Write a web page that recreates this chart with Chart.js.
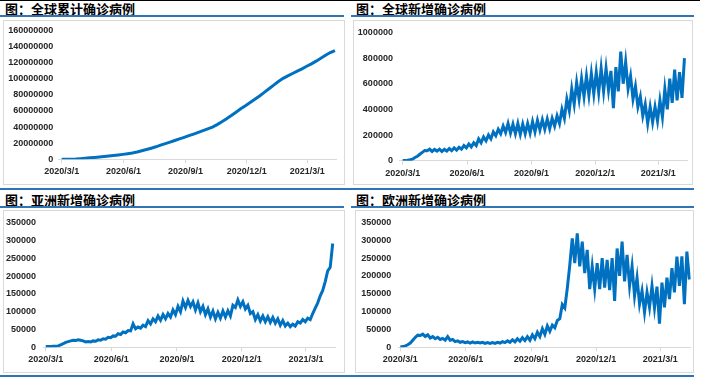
<!DOCTYPE html>
<html>
<head>
<meta charset="utf-8">
<script src="https://cdn.jsdelivr.net/npm/chart.js@4.4.0/dist/chart.umd.min.js"></script>
<style>
  body { margin: 0; background: #fff; width: 702px; height: 380px; position: relative; overflow: hidden; }
  .rule { position: absolute; height: 2px; background: #2F75B5; }
  .black { position: absolute; height: 1px; background: #000; }
  .title { position: absolute; font: bold 13px "Noto Sans CJK SC", sans-serif; line-height: 15px; color: #000; white-space: nowrap; }
  .box { position: absolute; border: 1px solid #D9D9D9; box-sizing: border-box; }
  canvas { position: absolute; }
</style>
</head>
<body>
<div class="black" style="left:0;top:0;width:700px"></div>

<div class="title" style="left:5px;top:1px">图：全球累计确诊病例</div>
<div class="title" style="left:356px;top:1px">图：全球新增确诊病例</div>
<div class="rule" style="left:0;top:15px;width:344px"></div>
<div class="rule" style="left:351px;top:15px;width:343px"></div>
<div class="box" style="left:3px;top:20px;width:342px;height:165px"></div>
<div class="box" style="left:353px;top:20px;width:340px;height:165px"></div>
<canvas id="c1" width="342" height="165" style="left:3px;top:20px"></canvas>
<canvas id="c2" width="340" height="165" style="left:353px;top:20px"></canvas>
<div class="rule" style="left:0;top:188px;width:694px"></div>

<div class="title" style="left:5px;top:192px">图：亚洲新增确诊病例</div>
<div class="title" style="left:356px;top:192px">图：欧洲新增确诊病例</div>
<div class="rule" style="left:0;top:206px;width:344px"></div>
<div class="rule" style="left:351px;top:206px;width:343px"></div>
<div class="box" style="left:3px;top:210px;width:342px;height:163px"></div>
<div class="box" style="left:355px;top:210px;width:339px;height:163px"></div>
<canvas id="c3" width="342" height="163" style="left:3px;top:210px"></canvas>
<canvas id="c4" width="339" height="163" style="left:355px;top:210px"></canvas>
<div class="rule" style="left:0;top:375px;width:694px"></div>

<script>
// x axis: days since 2020/3/1
const tickDays = [0, 92, 184, 275, 365];
const tickLabels = ['2020/3/1', '2020/6/1', '2020/9/1', '2020/12/1', '2021/3/1'];

// 全球累计确诊 (millions), one value per week from 2020/3/1
const cumStep = 7;
const globalTotal = [0.1, 0.1, 0.2, 0.4, 0.8, 1.3, 1.8, 2.3, 2.8, 3.4,
  4.0, 4.6, 5.3, 6.1, 7.0, 7.9, 9.1, 10.6, 12.2, 13.8,
  15.5, 17.5, 19.5, 21.4, 23.3, 25.3, 27.3, 29.3, 31.3, 33.4,
  35.6, 37.8, 40.0, 43.0, 46.5, 50.3, 54.3, 58.5, 62.7, 66.5,
  70.5, 74.5, 78.5, 83.0, 87.5, 92.0, 96.5, 100.5, 103.5, 106.5,
  109.5, 112.3, 115.5, 118.5, 121.8, 125.5, 129.2, 132.5, 135.0];

// daily series (thousands), one value every half week from 2020/3/1
const dailyStep = 3.5;
const globalNew = [2, 2, 4, 7, 12, 25, 35, 50, 65, 80,
  78, 90, 72, 88, 75, 90, 72, 88, 75, 95,
  78, 100, 82, 105, 90, 118, 100, 130, 108, 140,
  118, 170, 140, 185, 155, 200, 170, 225, 195, 245,
  210, 270, 220, 290, 215, 285, 210, 290, 205, 285,
  210, 290, 215, 305, 225, 315, 240, 320, 245, 325,
  250, 330, 270, 350, 290, 400, 330, 480, 390, 560,
  440, 610, 480, 640, 500, 660, 510, 680, 520, 690,
  530, 720, 540, 720, 550, 700, 410, 730, 540, 850,
  600, 770, 560, 660, 480, 580, 420, 500, 350, 440,
  290, 420, 300, 420, 310, 470, 340, 560, 400, 640,
  450, 710, 470, 690, 490, 800];

const asiaNew = [2, 2, 2, 3, 3, 4, 7, 10, 14, 16,
  18, 20, 19, 21, 20, 18, 15, 16, 15, 18,
  17, 21, 20, 24, 23, 28, 27, 32, 31, 38,
  36, 43, 41, 47, 46, 66, 52, 57, 54, 62,
  58, 75, 66, 80, 72, 88, 76, 92, 80, 95,
  85, 105, 92, 115, 100, 130, 112, 132, 115, 128,
  105, 125, 100, 115, 92, 108, 85, 102, 80, 98,
  82, 102, 85, 103, 88, 118, 112, 133, 115, 128,
  108, 118, 95, 100, 78, 92, 74, 88, 72, 86,
  70, 84, 68, 80, 62, 75, 60, 68, 58, 65,
  60, 72, 68, 78, 72, 82, 78, 95, 110, 125,
  145, 160, 185, 215, 225, 292];

const europeNew = [1, 2, 4, 7, 12, 20, 28, 34, 33, 37,
  30, 35, 26, 30, 24, 28, 22, 25, 20, 30,
  20, 22, 16, 18, 14, 16, 13, 15, 12, 15,
  12, 14, 12, 14, 11, 13, 11, 13, 11, 14,
  12, 16, 13, 18, 14, 21, 15, 24, 17, 27,
  19, 30, 20, 35, 24, 42, 30, 52, 36, 60,
  45, 62, 55, 75, 80, 120, 110, 165, 230, 305,
  236, 319, 227, 296, 208, 273, 163, 227, 163, 236,
  163, 250, 167, 245, 160, 250, 130, 277, 200, 296,
  185, 259, 172, 227, 144, 195, 121, 158, 98, 154,
  112, 172, 110, 170, 66, 181, 112, 195, 135, 222,
  154, 254, 172, 255, 121, 268, 190];

const lineColor = '#0070C0';
const tickFont = { family: '"Liberation Sans", Arial, sans-serif', size: 9, weight: 'bold' };

function makeChart(id, values, step, unit, o) {
  const points = values.map((v, i) => ({ x: i * step, y: v }));
  new Chart(document.getElementById(id), {
    type: 'line',
    data: { datasets: [{ data: points, borderColor: lineColor, borderWidth: 3, pointRadius: 0, tension: 0 }] },
    options: {
      responsive: false,
      animation: false,
      layout: { padding: { top: o.padTop, right: o.padRight, left: 0, bottom: 0 } },
      plugins: { legend: { display: false }, tooltip: { enabled: false } },
      scales: {
        x: {
          type: 'linear',
          min: o.xmin,
          max: o.xmax,
          afterBuildTicks: s => { s.ticks = tickDays.map(v => ({ value: v })); },
          afterFit: s => { s.height = o.xh; },
          ticks: {
            autoSkip: false, maxRotation: 0, padding: 3, color: '#262626', font: tickFont,
            callback: v => tickLabels[tickDays.indexOf(v)]
          },
          grid: { drawOnChartArea: false, drawTicks: true, tickLength: 4, color: '#D9D9D9' },
          border: { color: '#D9D9D9' }
        },
        y: {
          min: 0,
          max: o.ymax,
          afterFit: s => { s.width = o.yw; },
          ticks: {
            stepSize: o.ystep, padding: o.gap, color: '#262626', font: tickFont,
            callback: v => String(Math.round(v * unit))
          },
          grid: { display: false, drawTicks: false },
          border: { display: false }
        }
      }
    }
  });
}

makeChart('c1', globalTotal, cumStep, 1e6,
  { xmin: -5, xmax: 408, ymax: 160, ystep: 20, yw: 55.3, xh: 25.7, padTop: 10, padRight: 8.7, gap: 5 });
makeChart('c2', globalNew, dailyStep, 1e3,
  { xmin: -4, xmax: 407, ymax: 1000, ystep: 200, yw: 46.9, xh: 24.3, padTop: 11.7, padRight: 5.4, gap: 7 });
makeChart('c3', asiaNew, dailyStep, 1e3,
  { xmin: -3, xmax: 406, ymax: 350, ystep: 50, yw: 40.6, xh: 25.7, padTop: 11.3, padRight: 9.8, gap: 7.5 });
makeChart('c4', europeNew, dailyStep, 1e3,
  { xmin: -3, xmax: 408, ymax: 350, ystep: 50, yw: 43.2, xh: 25.7, padTop: 10.3, padRight: 3.2, gap: 7 });
</script>
</body>
</html>
